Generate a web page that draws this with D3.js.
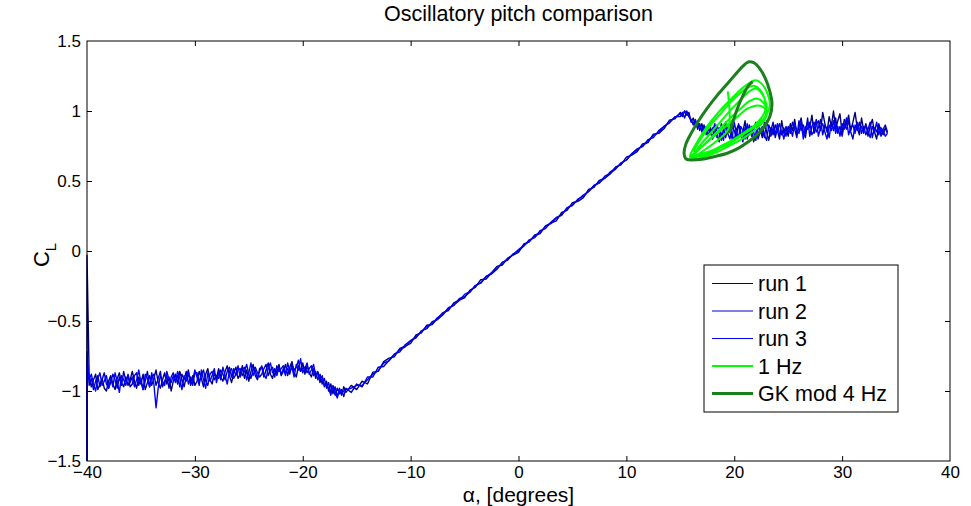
<!DOCTYPE html>
<html>
<head>
<meta charset="utf-8">
<script src="https://cdn.jsdelivr.net/npm/d3@7"></script>
<style>
  body { margin: 0; background: #fff; }
  text { font-family: "Liberation Sans", Arial, Helvetica, sans-serif; fill: #000; }
</style>
</head>
<body>
<svg id="chart" width="971" height="506"></svg>
<script>
// ── data ────────────────────────────────────────────────────
// sample angles (deg), shared by the three runs
const alphaLeft = [
  -39.8,-39.6,-39.4,-39.2,-39.0,-38.8,-38.6,-38.4,-38.2,-38.0,
  -37.8,-37.6,-37.4,-37.2,-37.0,-36.8,-36.6,-36.4,-36.2,-36.0,
  -35.8,-35.6,-35.4,-35.2,-35.0,-34.8,-34.6,-34.4,-34.2,-34.0,
  -33.8,-33.6,-33.4,-33.2,-33.0,-32.8,-32.6,-32.4,-32.2,-32.0,
  -31.8,-31.6,-31.4,-31.2,-31.0,-30.8,-30.6,-30.4,-30.2,-30.0,
  -29.8,-29.6,-29.4,-29.2,-29.0,-28.8,-28.6,-28.4,-28.2,-28.0,
  -27.8,-27.6,-27.4,-27.2,-27.0,-26.8,-26.6,-26.4,-26.2,-26.0,
  -25.8,-25.6,-25.4,-25.2,-25.0,-24.8,-24.6,-24.4,-24.2,-24.0,
  -23.8,-23.6,-23.4,-23.2,-23.0,-22.8,-22.6,-22.4,-22.2,-22.0,
  -21.8,-21.6,-21.4,-21.2,-21.0,-20.8,-20.6,-20.4,-20.2,-20.0,
  -19.8,-19.6,-19.4,-19.2,-19.0,-18.8,-18.6,-18.4,-18.2,-18.0,
  -17.8,-17.6,-17.4,-17.2,-17.0,-16.8,-16.6,-16.4,-16.2,-16.0];
const alphaMid = [
  -15.5,-15,-14.5,-14,-13.5,-13,-12.5,-12,-11.5,-11,
  -10.5,-10,-9.5,-9,-8.5,-8,-7.5,-7,-6.5,-6,
  -5.5,-5,-4.5,-4,-3.5,-3,-2.5,-2,-1.5,-1,
  -0.5,0,0.5,1,1.5,2,2.5,3,3.5,4,
  4.5,5,5.5,6,6.5,7,7.5,8,8.5,9,
  9.5,10,10.5,11,11.5,12,12.5,13,13.5,14,
  14.5];
const alphaRight = [
  15.0,15.2,15.4,15.6,15.8,16.0,16.2,16.4,16.6,16.8,
  17.0,17.2,17.4,17.6,17.8,18.0,18.2,18.4,18.6,18.8,
  19.0,19.2,19.4,19.6,19.8,20.0,20.2,20.4,20.6,20.8,
  21.0,21.2,21.4,21.6,21.8,22.0,22.2,22.4,22.6,22.8,
  23.0,23.2,23.4,23.6,23.8,24.0,24.2,24.4,24.6,24.8,
  25.0,25.2,25.4,25.6,25.8,26.0,26.2,26.4,26.6,26.8,
  27.0,27.2,27.4,27.6,27.8,28.0,28.2,28.4,28.6,28.8,
  29.0,29.2,29.4,29.6,29.8,30.0,30.2,30.4,30.6,30.8,
  31.0,31.2,31.4,31.6,31.8,32.0,32.2,32.4,32.6,32.8,
  33.0,33.2,33.4,33.6,33.8,34.0,34.2];
const alphaDeg = alphaLeft.concat(alphaMid, alphaRight);

// start transient at alpha = -40 (vertical stroke on the left axis)
const run1Start = [-1.5, -0.03];
const run2Start = [-1.5, -0.72];
const run3Start = [-1.5, -0.78];

// C_L, run 1
const run1CL = [
  -0.90,-0.97,-0.92,-0.88,-0.99,-0.95,-0.91,-0.98,-1.00,-0.93,
  -0.89,-0.95,-0.99,-0.91,-0.87,-0.94,-0.97,-0.90,-0.96,-0.92,
  -0.86,-0.93,-0.98,-0.90,-0.95,-0.88,-0.99,-0.94,-0.89,-0.96,
  -0.91,-0.85,-0.94,-0.98,-0.92,-0.87,-0.95,-0.90,-1.00,-0.93,
  -0.88,-0.95,-0.86,-0.92,-0.97,-0.90,-0.85,-0.94,-0.89,-0.96,
  -0.93,-0.86,-0.91,-0.97,-0.88,-0.84,-0.92,-0.95,-0.87,-0.91,
  -0.84,-0.90,-0.93,-0.86,-0.82,-0.89,-0.94,-0.87,-0.83,-0.91,
  -0.88,-0.82,-0.91,-0.85,-0.93,-0.86,-0.81,-0.89,-0.92,-0.84,
  -0.83,-0.90,-0.85,-0.80,-0.88,-0.91,-0.84,-0.87,-0.81,-0.89,
  -0.86,-0.81,-0.89,-0.83,-0.79,-0.87,-0.90,-0.82,-0.86,-0.80,
  -0.88,-0.82,-0.87,-0.90,-0.84,-0.91,-0.86,-0.94,-0.89,-0.97,
  -0.93,-1.00,-0.95,-1.02,-0.97,-1.04,-0.99,-1.03,-0.97,-1.01,
  // linear range
  -0.96,-0.99,-0.93,-0.95,-0.865,-0.86,-0.79,-0.765,-0.755,-0.695,
  -0.68,-0.66,-0.60,-0.585,-0.53,-0.525,-0.48,-0.44,-0.425,-0.37,
  -0.35,-0.335,-0.28,-0.26,-0.205,-0.20,-0.155,-0.11,-0.10,-0.05,
  -0.03,-0.01,0.05,0.065,0.115,0.125,0.18,0.20,0.215,0.275,
  0.29,0.345,0.355,0.38,0.44,0.455,0.505,0.52,0.55,0.60,
  0.615,0.67,0.685,0.71,0.765,0.775,0.835,0.84,0.875,0.935,
  0.945,
  // post stall
  0.99,0.96,1.00,0.97,0.99,0.92,0.95,0.89,0.93,0.86,
  0.91,0.84,0.89,0.82,0.88,
  0.80,0.89,0.84,0.78,0.91,0.86,0.81,0.88,0.92,0.83,
  0.79,0.87,0.90,0.82,0.85,0.93,0.80,0.86,0.89,0.78,
  0.84,0.91,0.87,0.81,0.92,0.85,0.79,0.88,0.83,0.90,
  0.86,0.80,0.93,0.84,0.88,
  0.82,0.91,0.86,0.94,0.83,0.89,0.95,0.85,0.81,0.92,
  0.88,0.97,0.84,0.90,0.93,0.86,0.99,0.91,0.85,0.96,
  0.89,1.00,0.87,0.93,0.98,0.84,0.94,0.90,0.97,0.86,
  0.92,0.99,0.88,0.83,0.95,
  0.86,0.91,0.82,0.89,0.94,0.85,0.80,0.90,0.87,0.83,0.88,0.84];

// C_L, run 2
const run2CL = [
  -0.96,-0.91,-0.99,-0.93,-0.89,-0.97,-0.92,-0.87,-0.95,-0.98,
  -0.94,-0.88,-0.92,-0.98,-0.90,-0.96,-0.86,-0.93,-0.89,-0.97,
  -0.95,-0.89,-0.87,-0.96,-0.91,-0.99,-0.93,-0.86,-0.97,-0.90,
  -0.88,-0.96,-0.91,-0.86,-0.97,-0.93,-0.89,-0.98,-0.90,-0.87,
  -0.93,-0.89,-0.97,-0.88,-0.92,-0.86,-0.95,-0.90,-0.96,-0.87,
  -0.87,-0.94,-0.89,-0.85,-0.93,-0.96,-0.88,-0.86,-0.92,-0.89,
  -0.91,-0.85,-0.88,-0.92,-0.86,-0.83,-0.90,-0.84,-0.89,-0.85,
  -0.84,-0.89,-0.86,-0.81,-0.88,-0.91,-0.85,-0.83,-0.87,-0.90,
  -0.88,-0.84,-0.81,-0.89,-0.85,-0.83,-0.90,-0.82,-0.86,-0.84,
  -0.82,-0.87,-0.84,-0.88,-0.81,-0.85,-0.83,-0.78,-0.86,-0.84,
  -0.83,-0.87,-0.84,-0.82,-0.89,-0.86,-0.92,-0.88,-0.95,-0.91,
  -0.98,-0.94,-1.01,-0.97,-1.03,-0.98,-1.02,-0.99,-1.04,-0.98,
  -1.01,-0.95,-0.97,-0.90,-0.90,-0.83,-0.825,-0.78,-0.735,-0.72,
  -0.67,-0.64,-0.62,-0.57,-0.555,-0.505,-0.49,-0.455,-0.405,-0.39,
  -0.34,-0.325,-0.295,-0.245,-0.23,-0.18,-0.165,-0.13,-0.08,-0.065,
  -0.02,0.00,0.035,0.08,0.095,0.145,0.16,0.205,0.24,0.255,
  0.31,0.325,0.37,0.39,0.425,0.47,0.485,0.535,0.555,0.585,
  0.63,0.65,0.695,0.73,0.745,0.795,0.81,0.86,0.89,0.915,
  0.96,
  0.96,0.99,0.95,1.00,0.96,0.94,0.90,0.93,0.87,0.91,
  0.85,0.90,0.83,0.88,0.84,
  0.88,0.82,0.90,0.85,0.79,0.87,0.92,0.84,0.80,0.89,
  0.86,0.81,0.91,0.85,0.78,0.88,0.83,0.90,0.82,0.87,
  0.92,0.80,0.85,0.89,0.83,0.79,0.90,0.86,0.92,0.81,
  0.87,0.91,0.83,0.88,0.82,
  0.89,0.84,0.92,0.87,0.81,0.93,0.86,0.90,0.84,0.95,
  0.82,0.89,0.92,0.85,0.88,0.94,0.83,0.90,0.87,0.81,
  0.92,0.86,0.95,0.84,0.89,0.82,0.91,0.87,0.93,0.85,
  0.80,0.90,0.86,0.92,0.84,
  0.89,0.83,0.87,0.92,0.81,0.88,0.85,0.91,0.82,0.87,0.90,0.85];

// C_L, run 3
const run3CL = [
  -0.92,-0.88,-0.95,-1.00,-0.91,-0.87,-0.96,-0.93,-0.89,-0.98,
  -0.91,-0.97,-0.87,-0.93,-1.01,-0.89,-0.92,-0.96,-0.88,-0.94,
  -0.90,-0.97,-0.92,-0.85,-0.94,-0.99,-0.88,-0.91,-0.97,-0.87,
  -0.95,-1.12,-0.98,-0.89,-0.93,-0.96,-0.86,-0.92,-0.94,-0.89,
  -0.94,-0.86,-0.91,-0.99,-0.89,-0.93,-0.87,-0.96,-0.92,-0.85,
  -0.90,-0.96,-0.85,-0.92,-0.98,-0.87,-0.93,-0.89,-0.84,-0.94,
  -0.87,-0.92,-0.83,-0.89,-0.95,-0.86,-0.84,-0.91,-0.88,-0.82,
  -0.90,-0.85,-0.83,-0.92,-0.87,-0.80,-0.89,-0.85,-0.91,-0.86,
  -0.82,-0.88,-0.91,-0.84,-0.80,-0.87,-0.85,-0.89,-0.83,-0.88,
  -0.84,-0.89,-0.80,-0.86,-0.83,-0.90,-0.81,-0.85,-0.77,-0.87,
  -0.84,-0.80,-0.88,-0.85,-0.81,-0.89,-0.87,-0.92,-0.90,-0.96,
  -0.95,-0.98,-1.03,-0.96,-1.01,-1.05,-0.98,-1.02,-1.00,-0.99,
  -0.98,-0.96,-0.96,-0.92,-0.88,-0.855,-0.80,-0.785,-0.74,-0.705,
  -0.685,-0.64,-0.615,-0.575,-0.54,-0.52,-0.475,-0.45,-0.41,-0.385,
  -0.355,-0.31,-0.29,-0.25,-0.225,-0.185,-0.155,-0.125,-0.085,-0.06,
  -0.025,0.01,0.04,0.07,0.105,0.13,0.175,0.195,0.235,0.26,
  0.305,0.33,0.365,0.40,0.425,0.465,0.49,0.52,0.565,0.59,
  0.625,0.65,0.695,0.72,0.755,0.78,0.825,0.845,0.89,0.92,
  0.955,
  0.98,0.97,1.00,0.98,0.96,0.93,0.91,0.94,0.88,0.90,
  0.86,0.89,0.84,0.87,0.83,
  0.86,0.91,0.81,0.88,0.84,0.79,0.90,0.85,0.87,0.80,
  0.92,0.84,0.82,0.89,0.86,0.80,0.91,0.83,0.88,0.85,
  0.79,0.90,0.84,0.86,0.81,0.93,0.87,0.82,0.88,0.84,
  0.91,0.83,0.86,0.80,0.89,
  0.85,0.88,0.82,0.91,0.86,0.84,0.93,0.80,0.89,0.87,
  0.92,0.83,0.86,0.94,0.82,0.88,0.91,0.85,0.80,0.90,
  0.86,0.93,0.84,0.89,0.82,0.91,0.87,0.95,0.83,0.88,
  0.90,0.84,0.92,0.86,0.89,
  0.84,0.90,0.86,0.81,0.89,0.85,0.92,0.83,0.88,0.86,0.82,0.84];

// 1 Hz pitch oscillation, [alpha, CL]
const hz1Trace = [
  [19.4,1.14],[19.45,0.87],[18.6,0.80],[17.4,0.73],[16.4,0.68],
  [16.0,0.67],[17.0,0.69],[18.0,0.72],[19.0,0.76],[20.0,0.80],[21.0,0.85],[22.0,0.90],[22.9,0.96],
  [23.3,1.04],[23.1,1.12],[22.6,1.19],[22.0,1.22],[21.4,1.20],[20.7,1.16],[19.9,1.10],[19.0,1.03],
  [18.1,0.95],[17.3,0.87],[16.5,0.77],[15.9,0.67],
  [16.8,0.68],[17.8,0.70],[18.8,0.74],[19.8,0.78],[20.8,0.83],[21.8,0.88],[22.6,0.93],[23.0,0.99],
  [22.9,1.07],[22.5,1.13],[22.0,1.16],[21.4,1.14],[20.6,1.08],[19.7,1.01],[18.8,0.93],[17.9,0.85],
  [17.0,0.77],[16.3,0.70],[15.9,0.67],
  [16.5,0.66],[17.5,0.68],[18.5,0.71],[19.5,0.75],[20.5,0.79],[21.5,0.84],[22.3,0.89],[22.9,0.95],
  [23.0,1.01],[22.7,1.06],[22.1,1.09],[21.4,1.07],[20.5,1.01],[19.5,0.94],[18.5,0.86],[17.6,0.79],
  [16.8,0.73],[16.2,0.68],
  [17.0,0.68],[18.2,0.72],[19.4,0.77],[20.6,0.83],[21.8,0.89],[22.6,0.93],[23.0,0.97],[22.8,1.02],
  [22.2,1.04],[21.3,1.02],[20.3,0.96],[19.2,0.89],[18.1,0.82],[17.1,0.75],[16.3,0.70],[16.0,0.67],
  [17.2,0.70],[18.4,0.73],[19.6,0.78],[20.6,0.83],[21.6,0.88],[22.4,0.94],[22.9,1.01],[22.8,1.09],
  [22.4,1.15],[21.8,1.18],[21.1,1.16],[20.3,1.11],[19.4,1.04],[18.5,0.96],[17.6,0.88],[16.8,0.79],
  [16.2,0.71]];

// GK model, 4 Hz: start-up stroke and the limit loop, [alpha, CL]
const gkStart = [[19.55,0.84],[19.9,0.93],[20.3,1.02],[20.8,1.11],[21.3,1.18],[21.7,1.21]];
const gkLoop = [
  [15.9,0.65],[17.0,0.655],[18.2,0.675],[19.4,0.70],[20.4,0.735],[21.3,0.78],[22.1,0.83],
  [22.8,0.89],[23.3,0.96],[23.5,1.05],[23.3,1.14],[22.9,1.23],[22.3,1.31],[21.8,1.345],
  [21.3,1.35],[20.8,1.32],[20.1,1.26],[19.3,1.19],[18.4,1.11],[17.5,1.02],[16.7,0.93],
  [16.0,0.84],[15.5,0.76],[15.35,0.70],[15.5,0.66],[15.9,0.65]];

const xTicks = [-40, -30, -20, -10, 0, 10, 20, 30, 40];
const yTicks = [-1.5, -1, -0.5, 0, 0.5, 1, 1.5];
const legendLabels = ["run 1", "run 2", "run 3", "1 Hz", "GK mod 4 Hz"];

// ── chart ───────────────────────────────────────────────────
const svg = d3.select("#chart");
const M = { left: 87, top: 41, right: 950, bottom: 461 };
const x = d3.scaleLinear().domain([-40, 40]).range([M.left, M.right]);
const y = d3.scaleLinear().domain([-1.5, 1.5]).range([M.bottom, M.top]);
const fmt = d3.format("~g");

svg.append("rect").attr("width", 971).attr("height", 506).attr("fill", "#fff");

const styles = [
  { color: "#00007a", width: 1.4 },
  { color: "#0000c4", width: 1.4 },
  { color: "#0000ff", width: 1.4 },
  { color: "#00ff00", width: 2 },
  { color: "#1b7f1b", width: 3 }
];

const straight = d3.line().x(d => x(d[0])).y(d => y(d[1]));
const smooth = d3.line().x(d => x(d[0])).y(d => y(d[1])).curve(d3.curveCatmullRom.alpha(0.5));

const runs = [[run1Start, run1CL], [run2Start, run2CL], [run3Start, run3CL]];
runs.forEach(([start, cl], i) => {
  const pts = start.map(v => [-40, v])
    .concat(alphaDeg.map((a, k) => [a, cl[k]]).filter(p => p[1] !== undefined));
  svg.append("path")
    .attr("d", straight(pts))
    .attr("fill", "none")
    .attr("stroke", styles[i].color)
    .attr("stroke-width", styles[i].width)
    .attr("stroke-linejoin", "round");
});

svg.append("path").attr("d", smooth(hz1Trace))
  .attr("fill", "none").attr("stroke", styles[3].color)
  .attr("stroke-width", styles[3].width).attr("stroke-linejoin", "round");

[gkStart, gkLoop].forEach(seg => {
  svg.append("path").attr("d", smooth(seg))
    .attr("fill", "none").attr("stroke", styles[4].color)
    .attr("stroke-width", styles[4].width).attr("stroke-linejoin", "round");
});

// axes: ticks point inward on all four sides
const tick = 5;
const gx = svg.append("g").attr("transform", `translate(0,${M.bottom})`)
  .call(d3.axisBottom(x).tickValues(xTicks).tickFormat(fmt).tickSizeInner(-tick).tickSizeOuter(0).tickPadding(5));
const gxt = svg.append("g").attr("transform", `translate(0,${M.top})`)
  .call(d3.axisTop(x).tickValues(xTicks).tickFormat("").tickSizeInner(-tick).tickSizeOuter(0));
const gy = svg.append("g").attr("transform", `translate(${M.left},0)`)
  .call(d3.axisLeft(y).tickValues(yTicks).tickFormat(fmt).tickSizeInner(-tick).tickSizeOuter(0).tickPadding(6));
const gyr = svg.append("g").attr("transform", `translate(${M.right},0)`)
  .call(d3.axisRight(y).tickValues(yTicks).tickFormat("").tickSizeInner(-tick).tickSizeOuter(0));

[gx, gxt, gy, gyr].forEach(g => {
  g.select(".domain").remove();
  g.selectAll("line").attr("stroke", "#000");
  g.selectAll("text").attr("font-size", 17).attr("fill", "#000")
    .style("font-family", '"Liberation Sans", Arial, sans-serif');
});
// the edge ticks sit on the box corners
[gx, gxt].forEach(g => g.selectAll(".tick").filter(d => d === -40 || d === 40).select("line").remove());
[gy, gyr].forEach(g => g.selectAll(".tick").filter(d => d === -1.5 || d === 1.5).select("line").remove());

svg.append("rect")
  .attr("x", M.left).attr("y", M.top)
  .attr("width", M.right - M.left).attr("height", M.bottom - M.top)
  .attr("fill", "none").attr("stroke", "#000").attr("stroke-width", 1);

// title and labels
svg.append("text").attr("x", (M.left + M.right) / 2).attr("y", 21)
  .attr("text-anchor", "middle").attr("font-size", 21.5)
  .text("Oscillatory pitch comparison");

svg.append("text").attr("x", (M.left + M.right) / 2).attr("y", 502)
  .attr("text-anchor", "middle").attr("font-size", 21)
  .text("α, [degrees]");

const yl = svg.append("text")
  .attr("transform", `translate(49,${(M.top + M.bottom) / 2 + 4}) rotate(-90)`)
  .attr("text-anchor", "middle").attr("font-size", 22);
yl.append("tspan").text("C");
yl.append("tspan").attr("dy", 7).attr("font-size", 15).text("L");

// legend
const lg = svg.append("g");
lg.append("rect").attr("x", 704).attr("y", 265).attr("width", 194).attr("height", 147)
  .attr("fill", "#fff").attr("stroke", "#000").attr("stroke-width", 1);
legendLabels.forEach((lab, i) => {
  const ly = 283.5 + i * 27.5;
  lg.append("line").attr("x1", 712).attr("x2", 753).attr("y1", ly).attr("y2", ly)
    .attr("stroke", styles[i].color).attr("stroke-width", i < 3 ? 1 : styles[i].width);
  lg.append("text").attr("x", 758).attr("y", ly).attr("dy", "0.35em")
    .attr("font-size", 21.5).text(lab);
});
</script>
</body>
</html>
